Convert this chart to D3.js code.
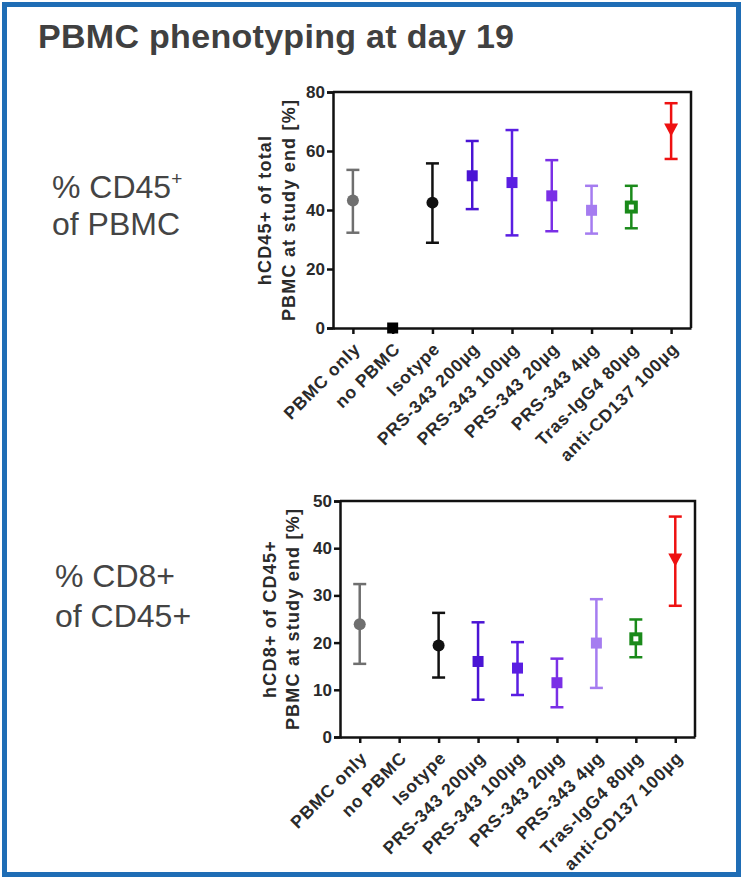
<!DOCTYPE html>
<html>
<head>
<meta charset="utf-8">
<script src="https://cdn.jsdelivr.net/npm/d3@7"></script>
<style>
  html, body { margin: 0; padding: 0; background: #fff; }
  svg { display: block; }
</style>
</head>
<body>
<svg id="chart" width="743" height="879"></svg>
<script>
// ---------- DATA ----------
const categories = ["PBMC only", "no PBMC", "Isotype", "PRS-343 200µg", "PRS-343 100µg",
  "PRS-343 20µg", "PRS-343 4µg", "Tras-IgG4 80µg", "anti-CD137 100µg"];

const cd45Mean  = [43.2, 0,   42.5, 51.6, 49.3, 44.8, 39.9, 41.0, 67.3];
const cd45Upper = [53.6, 0,   55.8, 63.4, 67.1, 56.9, 48.2, 48.2, 76.2];
const cd45Lower = [32.3, 0,   28.9, 40.3, 31.4, 32.8, 32.0, 33.8, 57.3];

const cd8Mean  = [23.9, null, 19.4, 16.0, 14.6, 11.5, 19.9, 20.8, 37.6];
const cd8Upper = [32.4, null, 26.3, 24.3, 20.1, 16.6, 29.2, 24.9, 46.7];
const cd8Lower = [15.5, null, 12.6,  7.9,  8.9,  6.3, 10.4, 16.9, 27.8];

const cd45Ticks = [0, 20, 40, 60, 80];
const cd8Ticks = [0, 10, 20, 30, 40, 50];

// ---------- STYLE ----------
const groupColors = ["#6f6f6f", "#000000", "#111111", "#4a14d4", "#5a1ee2", "#7a2fe6", "#a57cf0", "#1a8a1a", "#ee1111"];
const groupShapes = ["circle", "square", "circle", "square", "square", "square", "square", "opensquare", "triangle"];
const FONT = "Liberation Sans, Arial, sans-serif";

const svg = d3.select("#chart");

// frame
svg.append("rect").attr("x", 4.5).attr("y", 4.5).attr("width", 734).attr("height", 870)
  .attr("fill", "none").attr("stroke", "#1f6db5").attr("stroke-width", 5);

svg.append("text").attr("x", 38).attr("y", 48)
  .attr("font-family", FONT).attr("font-weight", "bold")
  .attr("font-size", 34).attr("letter-spacing", 0.3).attr("fill", "#404040").text("PBMC phenotyping at day 19");

function sideLabel(x, y1, y2, line1, sup, line2) {
  const t = svg.append("text").attr("font-family", FONT)
    .attr("font-size", 32).attr("fill", "#444");
  t.append("tspan").attr("x", x).attr("y", y1).text(line1);
  if (sup) t.append("tspan").attr("dy", -13).attr("font-size", 19).text(sup);
  t.append("tspan").attr("x", x).attr("y", y2).text(line2);
}
sideLabel(52, 198, 235, "% CD45", "+", "of PBMC");
sideLabel(55, 587, 627, "% CD8+", null, "of CD45+");

function panel(cfg) {
  const {left, right, top, bottom, yMax, ticks, mean, upper, lower, ylab1, ylab2, ylabX1, ylabX2} = cfg;
  const g = svg.append("g");
  const x = d3.scalePoint().domain(categories).range([left, right]).padding(0.5);
  const y = d3.scaleLinear().domain([0, yMax]).range([bottom, top]);

  // box (top/right)
  g.append("path").attr("d", `M${left},${top}H${right}V${bottom}`)
    .attr("fill", "none").attr("stroke", "#111").attr("stroke-width", 2.5);

  const yAxis = g.append("g").attr("transform", `translate(${left},0)`)
    .call(d3.axisLeft(y).tickValues(ticks).tickSize(6).tickPadding(2).tickFormat(d3.format("d")));
  yAxis.select(".domain").attr("stroke", "#111").attr("stroke-width", 2.5);
  yAxis.selectAll(".tick line").attr("stroke", "#111").attr("stroke-width", 2.5);
  yAxis.selectAll(".tick text").attr("font-family", FONT)
    .attr("font-weight", "bold").attr("font-size", 17).attr("fill", "#2a2a2a");

  const xAxis = g.append("g").attr("transform", `translate(0,${bottom})`)
    .call(d3.axisBottom(x).tickSize(6).tickSizeOuter(0));
  xAxis.select(".domain").attr("stroke", "#111").attr("stroke-width", 2.5);
  xAxis.selectAll(".tick line").attr("stroke", "#111").attr("stroke-width", 2.5);
  xAxis.selectAll(".tick text")
    .attr("font-family", FONT).attr("font-weight", "bold")
    .attr("font-size", 17.5).attr("letter-spacing", 0.8).attr("fill", "#2a2a2a")
    .attr("text-anchor", "end").attr("y", 0).attr("dy", 0)
    .attr("transform", "translate(8,22) rotate(-45)");

  // y label
  const cy = (top + bottom) / 2;
  [[ylab1, ylabX1], [ylab2, ylabX2]].forEach(([txt, lx]) => {
    g.append("text").attr("transform", `translate(${lx},${cy}) rotate(-90)`)
      .attr("text-anchor", "middle").attr("font-family", FONT)
      .attr("font-weight", "bold").attr("font-size", 18).attr("letter-spacing", 1.2)
      .attr("fill", "#2a2a2a").text(txt);
  });

  // error bars + markers
  categories.forEach((c, i) => {
    if (mean[i] == null) return;
    const cx = x(c), col = groupColors[i];
    if (upper[i] !== lower[i]) {
      g.append("line").attr("x1", cx).attr("x2", cx).attr("y1", y(upper[i])).attr("y2", y(lower[i]))
        .attr("stroke", col).attr("stroke-width", 2.5);
      [upper[i], lower[i]].forEach(v => {
        g.append("line").attr("x1", cx - 6.5).attr("x2", cx + 6.5).attr("y1", y(v)).attr("y2", y(v))
          .attr("stroke", col).attr("stroke-width", 2.5);
      });
    }
    const my = y(mean[i]);
    const shape = groupShapes[i];
    if (shape === "circle") {
      g.append("circle").attr("cx", cx).attr("cy", my).attr("r", 6).attr("fill", col);
    } else if (shape === "square") {
      g.append("rect").attr("x", cx - 5.5).attr("y", my - 5.5).attr("width", 11).attr("height", 11).attr("fill", col);
    } else if (shape === "opensquare") {
      g.append("rect").attr("x", cx - 4.5).attr("y", my - 4.5).attr("width", 9).attr("height", 9)
        .attr("fill", "#fff").attr("stroke", col).attr("stroke-width", 4);
    } else if (shape === "triangle") {
      g.append("path").attr("d", `M${cx - 7},${my - 6}L${cx + 7},${my - 6}L${cx},${my + 7}Z`).attr("fill", col);
    }
  });
}

panel({left: 333, right: 691, top: 92, bottom: 328, yMax: 80, ticks: cd45Ticks,
  mean: cd45Mean, upper: cd45Upper, lower: cd45Lower,
  ylab1: "hCD45+ of total", ylab2: "PBMC at study end [%]", ylabX1: 271, ylabX2: 295});

panel({left: 340, right: 695, top: 501, bottom: 737, yMax: 50, ticks: cd8Ticks,
  mean: cd8Mean, upper: cd8Upper, lower: cd8Lower,
  ylab1: "hCD8+ of CD45+", ylab2: "PBMC at study end [%]", ylabX1: 276, ylabX2: 299});
</script>
</body>
</html>
